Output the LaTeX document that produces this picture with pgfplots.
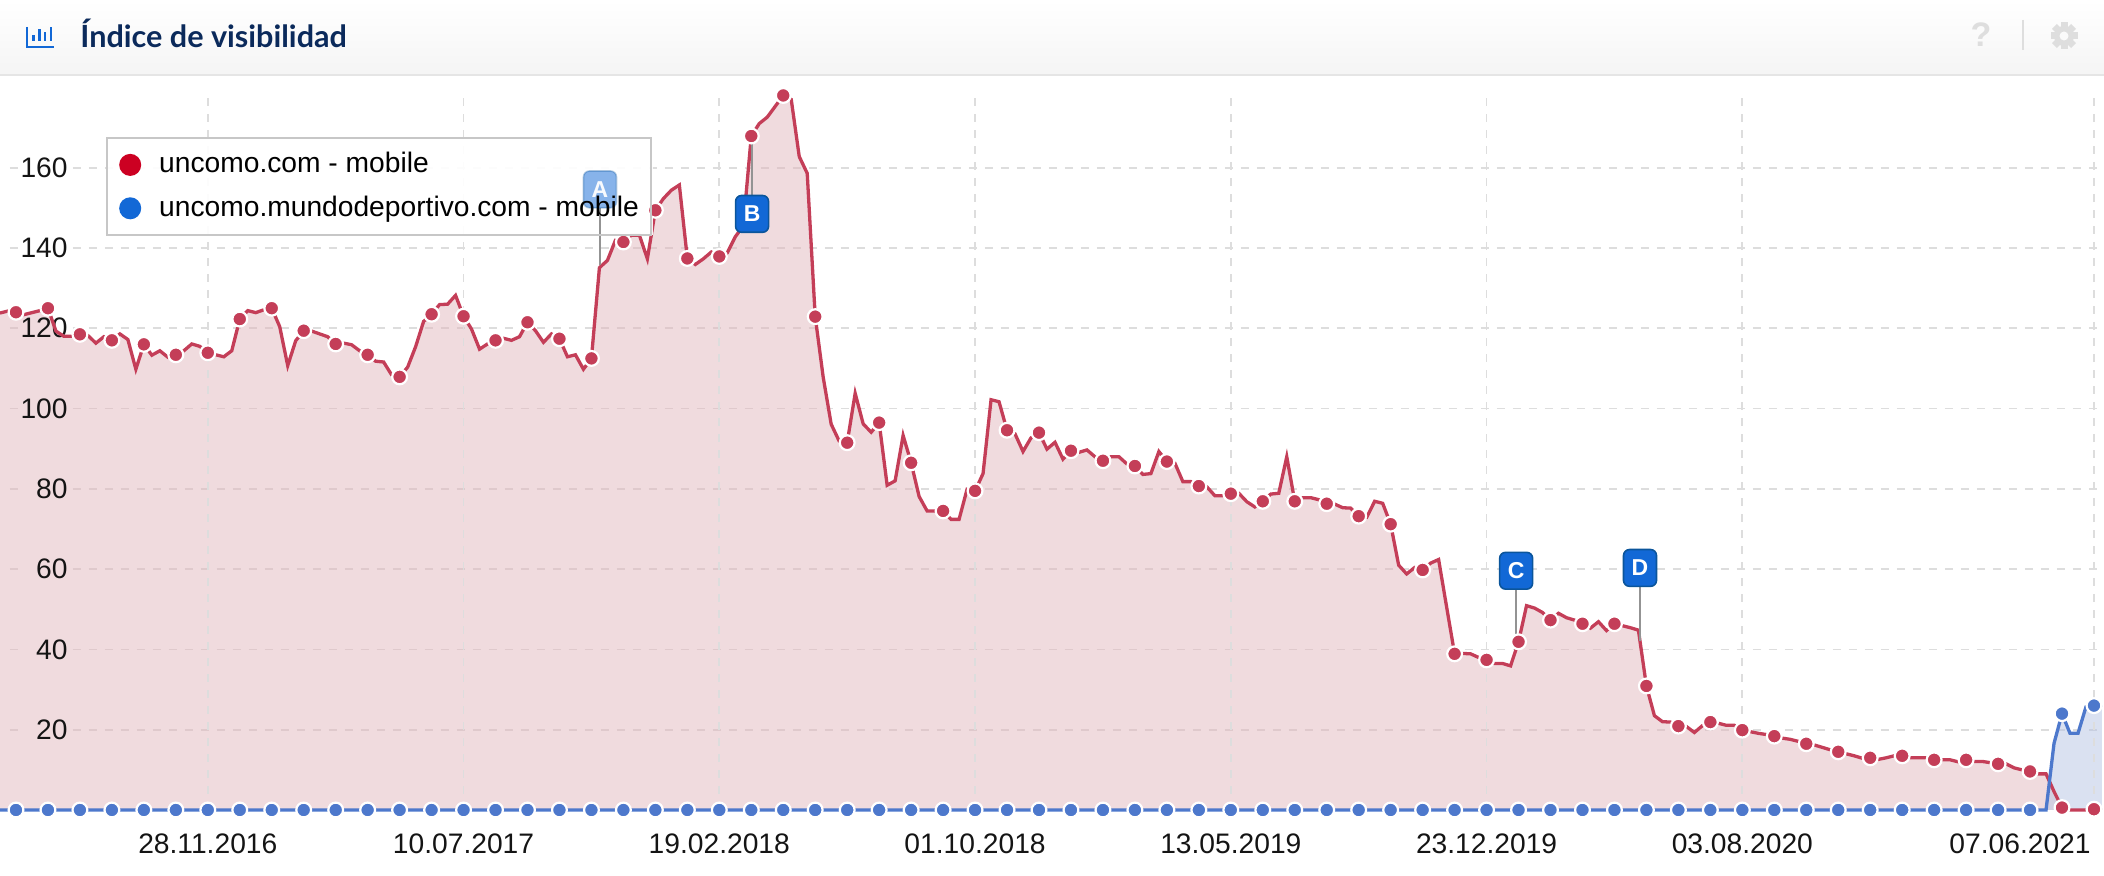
\documentclass[border=0pt]{standalone}
\usepackage{fontspec}
\usepackage{pgfplots}
\usepackage{pgfplotstable}
\pgfplotsset{compat=1.18}
\setmainfont{Liberation Sans}
\newfontfamily\titlefont{Lato}

\definecolor{redline}{HTML}{C43E58}
\definecolor{redfill}{HTML}{E1B7BD}
\definecolor{legred}{HTML}{CC0022}
\definecolor{blueline}{HTML}{4D78CC}
\definecolor{bluefill}{HTML}{B5C3E3}
\definecolor{legblue}{HTML}{1268D6}
\definecolor{flagedge}{HTML}{0B559B}
\definecolor{gridgray}{HTML}{DDDDDD}
\definecolor{navy}{HTML}{0B2A5B}

% fills under the tick labels, lines and marks over them
\pgfplotsset{
  layers/vis/.define layer set={axis background,axis grid,axis ticks,axis lines,pre main,axis tick labels,main,axis descriptions,axis foreground}{},
}

% weekly values, i = week index, marks every 4th week
\pgfplotstableread[row sep=\\]{
i red blue\\
-2 123.8 0\\ -1 124.3 0\\ 0 124.0 0\\ 1 123.4 0\\ 2 123.9 0\\ 3 124.4 0\\ 4 125.0 0\\ 5 119.3 0\\
6 118.0 0\\ 7 118.0 0\\ 8 118.5 0\\ 9 118.2 0\\ 10 116.3 0\\ 11 117.9 0\\ 12 117.0 0\\ 13 118.6 0\\
14 117.2 0\\ 15 109.8 0\\ 16 116.0 0\\ 17 113.3 0\\ 18 114.4 0\\ 19 112.8 0\\ 20 113.4 0\\ 21 114.4 0\\
22 116.1 0\\ 23 115.5 0\\ 24 113.9 0\\ 25 113.4 0\\ 26 112.9 0\\ 27 114.4 0\\ 28 122.3 0\\ 29 124.4 0\\
30 123.9 0\\ 31 124.6 0\\ 32 125.0 0\\ 33 120.4 0\\ 34 110.7 0\\ 35 116.9 0\\ 36 119.4 0\\ 37 119.3 0\\
38 118.6 0\\ 39 117.9 0\\ 40 116.1 0\\ 41 116.3 0\\ 42 115.9 0\\ 43 114.4 0\\ 44 113.4 0\\ 45 111.8 0\\
46 111.6 0\\ 47 108.4 0\\ 48 107.9 0\\ 49 110.3 0\\ 50 115.4 0\\ 51 121.7 0\\ 52 123.5 0\\ 53 125.9 0\\
54 126.0 0\\ 55 128.2 0\\ 56 123.0 0\\ 57 119.8 0\\ 58 114.8 0\\ 59 116.1 0\\ 60 117.0 0\\ 61 117.5 0\\
62 117.0 0\\ 63 117.9 0\\ 64 121.5 0\\ 65 119.4 0\\ 66 116.5 0\\ 67 118.6 0\\ 68 117.4 0\\ 69 112.9 0\\
70 113.4 0\\ 71 109.8 0\\ 72 112.5 0\\ 73 135.1 0\\ 74 136.9 0\\ 75 141.9 0\\ 76 141.5 0\\ 77 143.2 0\\
78 143.2 0\\ 79 137.3 0\\ 80 149.4 0\\ 81 152.3 0\\ 82 154.4 0\\ 83 155.7 0\\ 84 137.4 0\\ 85 135.9 0\\
86 137.3 0\\ 87 139.0 0\\ 88 137.9 0\\ 89 138.8 0\\ 90 142.8 0\\ 91 145.5 0\\ 92 167.9 0\\ 93 171.0 0\\
94 172.6 0\\ 95 175.3 0\\ 96 178.0 0\\ 97 177.0 0\\ 98 162.8 0\\ 99 158.6 0\\ 100 122.9 0\\ 101 107.8 0\\
102 96.1 0\\ 103 91.9 0\\ 104 91.5 0\\ 105 103.8 0\\ 106 96.2 0\\ 107 94.1 0\\ 108 96.5 0\\ 109 80.9 0\\
110 82.0 0\\ 111 93.3 0\\ 112 86.5 0\\ 113 78.1 0\\ 114 74.5 0\\ 115 74.5 0\\ 116 74.5 0\\ 117 72.4 0\\
118 72.4 0\\ 119 79.9 0\\ 120 79.5 0\\ 121 83.8 0\\ 122 102.2 0\\ 123 101.7 0\\ 124 94.6 0\\ 125 93.7 0\\
126 89.3 0\\ 127 92.7 0\\ 128 94.0 0\\ 129 89.9 0\\ 130 91.6 0\\ 131 87.4 0\\ 132 89.5 0\\ 133 89.1 0\\
134 89.7 0\\ 135 88.0 0\\ 136 87.0 0\\ 137 88.0 0\\ 138 88.0 0\\ 139 86.2 0\\ 140 85.7 0\\ 141 83.6 0\\
142 83.8 0\\ 143 89.3 0\\ 144 86.8 0\\ 145 86.4 0\\ 146 81.8 0\\ 147 81.8 0\\ 148 80.7 0\\ 149 80.5 0\\
150 78.3 0\\ 151 78.3 0\\ 152 78.8 0\\ 153 78.9 0\\ 154 76.8 0\\ 155 75.5 0\\ 156 76.9 0\\ 157 78.7 0\\
158 78.9 0\\ 159 88.0 0\\ 160 76.9 0\\ 161 77.8 0\\ 162 77.8 0\\ 163 77.3 0\\ 164 76.3 0\\ 165 76.2 0\\
166 75.3 0\\ 167 75.2 0\\ 168 73.2 0\\ 169 72.9 0\\ 170 76.9 0\\ 171 76.4 0\\ 172 71.2 0\\ 173 61.0 0\\
174 58.8 0\\ 175 60.4 0\\ 176 59.8 0\\ 177 61.5 0\\ 178 62.4 0\\ 179 50.6 0\\ 180 38.9 0\\ 181 39.0 0\\
182 38.9 0\\ 183 38.0 0\\ 184 37.4 0\\ 185 36.5 0\\ 186 36.5 0\\ 187 35.9 0\\ 188 41.9 0\\ 189 50.9 0\\
190 50.3 0\\ 191 49.2 0\\ 192 47.3 0\\ 193 49.0 0\\ 194 47.9 0\\ 195 47.3 0\\ 196 46.4 0\\ 197 45.3 0\\
198 46.9 0\\ 199 44.7 0\\ 200 46.4 0\\ 201 45.9 0\\ 202 45.4 0\\ 203 44.8 0\\ 204 30.9 0\\ 205 23.5 0\\
206 22.0 0\\ 207 21.9 0\\ 208 20.9 0\\ 209 20.8 0\\ 210 19.3 0\\ 211 21.0 0\\ 212 21.9 0\\ 213 21.6 0\\
214 21.1 0\\ 215 21.1 0\\ 216 19.9 0\\ 217 19.5 0\\ 218 19.1 0\\ 219 18.8 0\\ 220 18.4 0\\ 221 17.9 0\\
222 17.6 0\\ 223 17.1 0\\ 224 16.5 0\\ 225 16.2 0\\ 226 15.6 0\\ 227 15.0 0\\ 228 14.5 0\\ 229 14.0 0\\
230 13.5 0\\ 231 12.9 0\\ 232 13.0 0\\ 233 12.6 0\\ 234 13.0 0\\ 235 13.5 0\\ 236 13.5 0\\ 237 13.0 0\\
238 13.0 0\\ 239 13.0 0\\ 240 12.5 0\\ 241 12.5 0\\ 242 12.5 0\\ 243 12.0 0\\ 244 12.5 0\\ 245 12.1 0\\
246 12.1 0\\ 247 11.8 0\\ 248 11.5 0\\ 249 11.5 0\\ 250 10.5 0\\ 251 10.0 0\\ 252 9.6 0\\ 253 9.0 0\\
254 9.0 0\\ 255 4.6 16.6\\ 256 0.6 24.0\\ 257 0 19.1\\ 258 0 19.1\\ 259 0 25.7\\ 260 0.2 26.0\\ 261 0 26.1\\
}\visdata

\tikzset{
  flag/.style={rounded corners=3pt, fill=legblue, draw=flagedge, line width=.8pt,
    minimum width=16.5pt, minimum height=18.4pt, inner sep=0pt, text=white,
    font=\bfseries\fontsize{11.5}{11.5}\selectfont},
  stem/.style={draw=gray!85, line width=1pt},
}

\begin{document}
\begin{tikzpicture}
% header bar, in reference pixels
\begin{scope}[x=.5pt,y=-.5pt,shift={(0pt,405pt)}]
  \shade[top color=white,bottom color=black!4] (0,0) rectangle (2104,75);
  \fill[black!10] (0,74) rectangle (2104,76);
  \draw[legblue,line width=1.3pt] (27,27) -- (27,47) -- (54,47);
  \foreach \bx/\bt in {33.5/35,39.3/29,45/32,51/27}
    \draw[legblue,line width=1.4pt] (\bx,41) -- (\bx,\bt);
  \node[anchor=base west,inner sep=0pt,text=navy,font=\titlefont\bfseries\fontsize{15.3}{15.3}\selectfont] at (80,48) {Índice de visibilidad};
  \node[anchor=base,inner sep=0pt,text=black!13,font=\bfseries\fontsize{17}{17}\selectfont] at (1981,47) {?};
  \draw[black!13,line width=1pt] (2022.7,20) -- (2022.7,50);
  \fill[black!13] (2064,36) circle (10);
  \foreach \a in {0,45,...,315}
    \fill[black!13,rotate around={\a:(2064,36)}] (2060.5,22.5) rectangle (2067.5,30);
  \fill[black!2] (2064,36) circle (4.5);
\end{scope}

\begin{axis}[
    width=1052pt, height=357pt, scale only axis,
    xmin=-2, xmax=261.26,
    ymin=0, ymax=177.87,
    clip=false,
    set layers=vis,
    axis line style={draw=none},
    major tick length=0pt,
    tick style={draw=none},
    xtick={24,56,88,120,152,184,216,260},
    xticklabels={28.11.2016,10.07.2017,19.02.2018,01.10.2018,13.05.2019,23.12.2019,03.08.2020,\makebox[0pt][r]{07.06.2021\hspace{1.7pt}}},
    ytick={20,40,...,160},
    xmajorgrids=true,
    grid style={draw=gridgray, line width=.9pt, dash pattern=on 4pt off 4pt},
    /pgf/number format/assume math mode=true,
    tick label style={font=\fontsize{14.1}{14.1}\selectfont, text=black!92},
    xticklabel style={anchor=base, yshift=-22pt, inner sep=0pt},
    yticklabel style={anchor=east, xshift=34pt, inner sep=0pt},
    legend cell align=left,
    legend style={
      at={(0.05048,0.9430)}, anchor=north west,
      draw=black!22, line width=1pt, fill=none,
      inner xsep=6pt, inner ysep=7.1pt,
      row sep=8.7pt, column sep=9pt,
      nodes={inner sep=0pt, text height=10.5pt, text depth=2.5pt},
      font=\fontsize{14.1}{14.1}\selectfont,
    },
]
% horizontal grid, broken behind the tick labels
\pgfplotsinvokeforeach{20,40,...,160}{
  \addplot[forget plot, on layer=axis grid, draw=gridgray, line width=.9pt] coordinates {(-0.75,#1)(0.25,#1)};
  \addplot[forget plot, on layer=axis grid, draw=gridgray, line width=.9pt, dash pattern=on 4pt off 4pt] coordinates {(7.13,#1)(261.26,#1)};
}

\addplot[on layer=pre main, fill=redfill, fill opacity=.5, draw=none, forget plot] table[x=i,y=red] {\visdata} \closedcycle;
\addplot[on layer=pre main, fill=bluefill, fill opacity=.5, draw=none, forget plot] table[x=i,y=blue] {\visdata} \closedcycle;

\addplot[redline, line width=1.65pt, forget plot, mark=*, mark repeat=4, mark phase=3, mark size=3.7pt,
  mark options={fill=redline, draw=white, line width=1.1pt, solid}] table[x=i,y=red] {\visdata};
\addplot[blueline, line width=1.65pt, forget plot, mark=*, mark repeat=4, mark phase=3, mark size=3.7pt,
  mark options={fill=blueline, draw=white, line width=1.1pt, solid}] table[x=i,y=blue] {\visdata};

\addlegendimage{legend image code/.code={\fill[legred] (0pt,0pt) circle (5pt);}}
\addlegendentry{uncomo.com - mobile}
\addlegendimage{legend image code/.code={\fill[legblue] (0pt,0pt) circle (5pt);}}
\addlegendentry{uncomo.mundodeportivo.com - mobile}

% legend box sits over the curve, flag A shows through it
\fill[white,fill opacity=.93] (axis cs:11.29,167.7) rectangle (axis cs:79.7,143.2);

\draw[stem] (axis cs:73.07,150) -- (axis cs:73.07,135.8);
\node[flag,fill opacity=.5,draw opacity=.3,text opacity=.95] at (axis cs:73.07,154.6) {A};

\draw[stem] (axis cs:92.1,153.2) -- (axis cs:92.1,167.9);
\node[flag] at (axis cs:92.1,148.5) {B};

\draw[stem] (axis cs:187.7,55) -- (axis cs:187.7,41.6);
\node[flag] at (axis cs:187.7,59.6) {C};

\draw[stem] (axis cs:203.2,55.6) -- (axis cs:203.2,42.1);
\node[flag] at (axis cs:203.2,60.3) {D};
\end{axis}
\pgfresetboundingbox
\path[use as bounding box] (0pt,-33pt) rectangle (1052pt,405pt);
\end{tikzpicture}
\end{document}
